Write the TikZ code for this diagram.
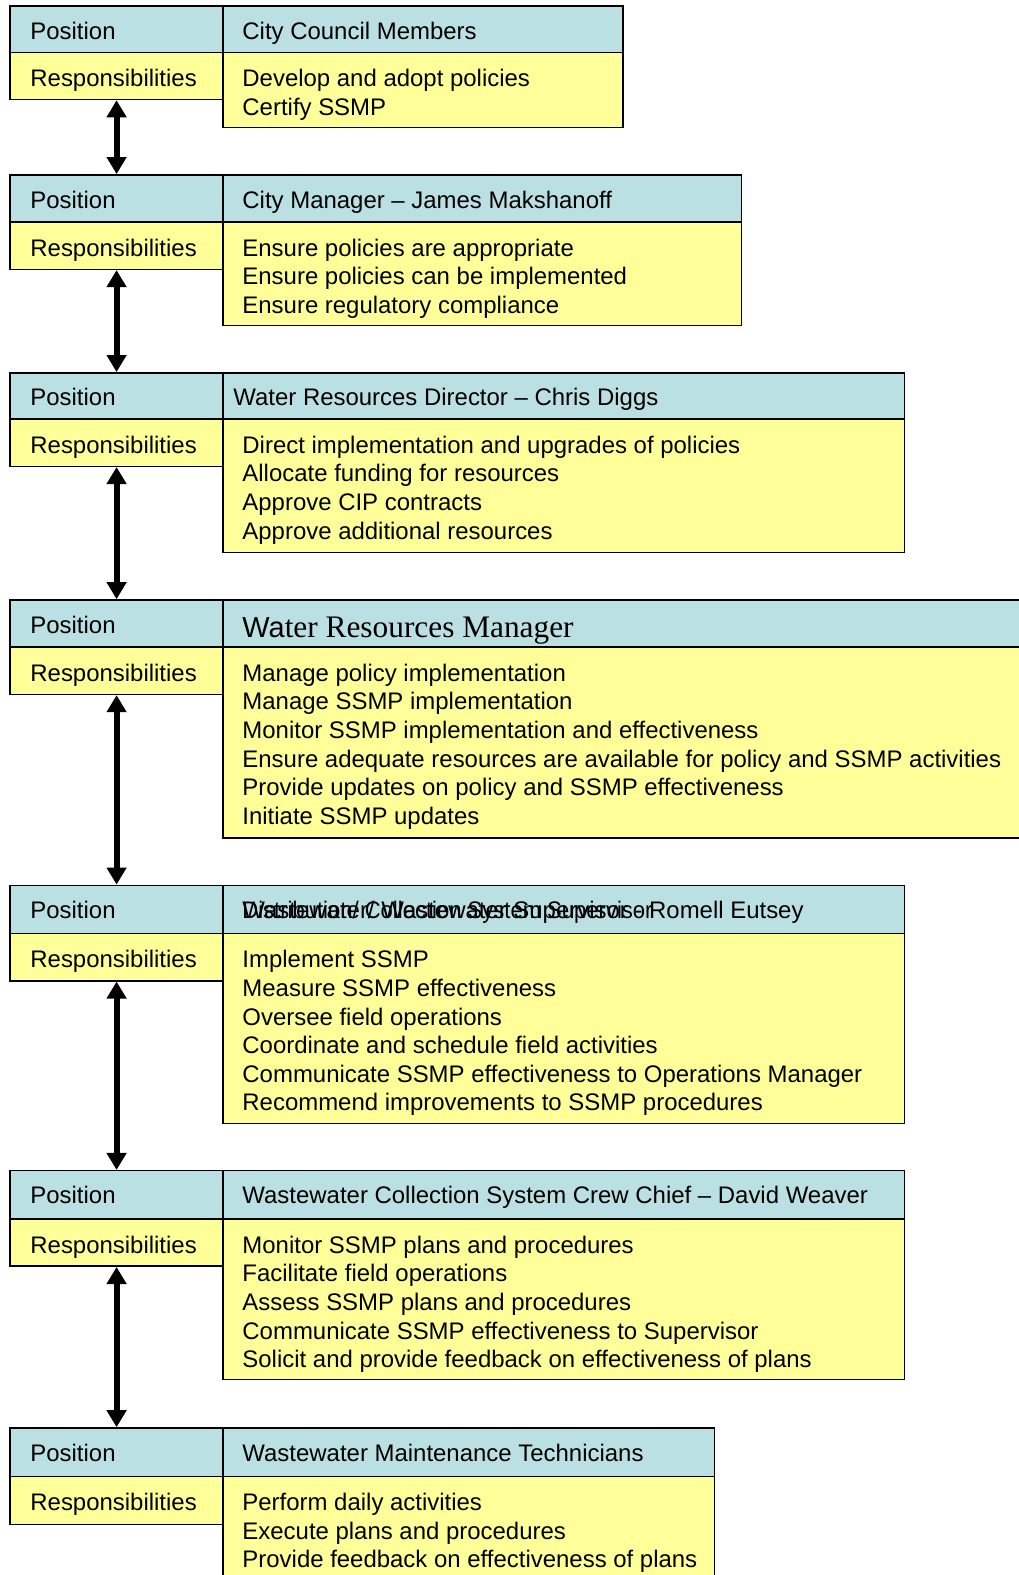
\documentclass[tikz,border=0pt]{standalone}
\usepackage{fontspec}
\setmainfont{Liberation Sans}
\newfontfamily\serifface{Liberation Serif}
\usetikzlibrary{arrows.meta,fit}
\definecolor{hdrblue}{RGB}{187,224,227}
\definecolor{bodyyellow}{RGB}{255,255,153}
\tikzset{
  cell/.style={draw=black, line width=1.1pt, inner sep=0pt, rectangle},
  hdrcell/.style={cell, fill=hdrblue},
  bodycell/.style={cell, fill=bodyyellow},
  txt/.style={anchor=base west, inner sep=0pt, font=\fontsize{17.96pt}{21.4pt}\selectfont},
  link/.style={line width=4.5pt,
    {Triangle[width=14.3pt,length=12.8pt]}-{Triangle[width=14.3pt,length=12.8pt]}},
}
% #1 id, #2 top, #3 divider, #4 bottom of left cells, #5 right edge,
% #6 bottom of right body, #7 title x, #8 title, #9 responsibilities
\newcommand\orgblock[9]{%
  \node[bodycell, fit={(222,#3) (#5,#6)}] (#1-body) {};
  \node[hdrcell, fit={(222,#2) (#5,#3)}] (#1-head) {};
  \node[hdrcell, fit={(10,#2) (222,#3)}] (#1-pos) {};
  \node[bodycell, fit={(10,#3) (222,#4)}] (#1-resp) {};
  \node[txt] (#1-post) at (30,#2+33) {Position};
  \node[txt] (#1-respt) at (30,#3+34) {Responsibilities};
  \node[txt] (#1-title) at (#7,#2+33) {#8};
  \foreach \t [count=\i] in {#9}
    \node[txt] (#1-l\i) at (241,#3+34+28.5*\i-28.5) {\t};
}
\begin{document}
\begin{tikzpicture}[x=0.7537pt, y=-0.7537pt]
\useasboundingbox (0,0) rectangle (1014,1567.3);
\clip (0,0) rectangle (1014,1567.3);

\orgblock{b1}{6}{52}{99}{620}{127}{241}{City Council Members}
  {Develop and adopt policies, Certify SSMP}
\orgblock{b2}{174}{221}{268}{738}{324}{241}{City Manager – James Makshanoff}
  {Ensure policies are appropriate, Ensure policies can be implemented,
   Ensure regulatory compliance}
\orgblock{b3}{371}{417}{464}{900}{550}{232}{Water Resources Director – Chris Diggs}
  {Direct implementation and upgrades of policies, Allocate funding for resources,
   Approve CIP contracts, Approve additional resources}
\orgblock{b4}{597}{644}{691}{1030}{834}{241}{}
  {Manage policy implementation, Manage SSMP implementation,
   Monitor SSMP implementation and effectiveness,
   Ensure adequate resources are available for policy and SSMP activities,
   Provide updates on policy and SSMP effectiveness, Initiate SSMP updates}
\node[anchor=base west, inner sep=0pt] (b4-name) at (241,634)
  {\fontsize{21.7pt}{26pt}\selectfont Wa\serifface\fontsize{23.5pt}{28pt}\selectfont ter Resources Manager};
\orgblock{b5}{881}{929}{976}{900}{1118}{241}{Wastewater/ Wastewater Supervisor - Romell Eutsey}
  {Implement SSMP, Measure SSMP effectiveness, Oversee field operations,
   Coordinate and schedule field activities,
   Communicate SSMP effectiveness to Operations Manager,
   Recommend improvements to SSMP procedures}
% older title left in place underneath the current one
\node[txt, xscale=0.92, transform shape] (b5-oldname) at (241,914)
  {Distribution/ Collection System Supervisor};
\orgblock{b6}{1165}{1213}{1260}{900}{1373}{241}{Wastewater Collection System Crew Chief – David Weaver}
  {Monitor SSMP plans and procedures, Facilitate field operations,
   Assess SSMP plans and procedures, Communicate SSMP effectiveness to Supervisor,
   Solicit and provide feedback on effectiveness of plans}
\orgblock{b7}{1421}{1469}{1517}{711}{1600}{241}{Wastewater Maintenance Technicians}
  {Perform daily activities, Execute plans and procedures,
   Provide feedback on effectiveness of plans}

\draw[link] (b1-resp.south) -- (b2-pos.north);
\draw[link] (b2-resp.south) -- (b3-pos.north);
\draw[link] (b3-resp.south) -- (b4-pos.north);
\draw[link] (b4-resp.south) -- (b5-pos.north);
\draw[link] (b5-resp.south) -- (b6-pos.north);
\draw[link] (b6-resp.south) -- (b7-pos.north);
\end{tikzpicture}
\end{document}
